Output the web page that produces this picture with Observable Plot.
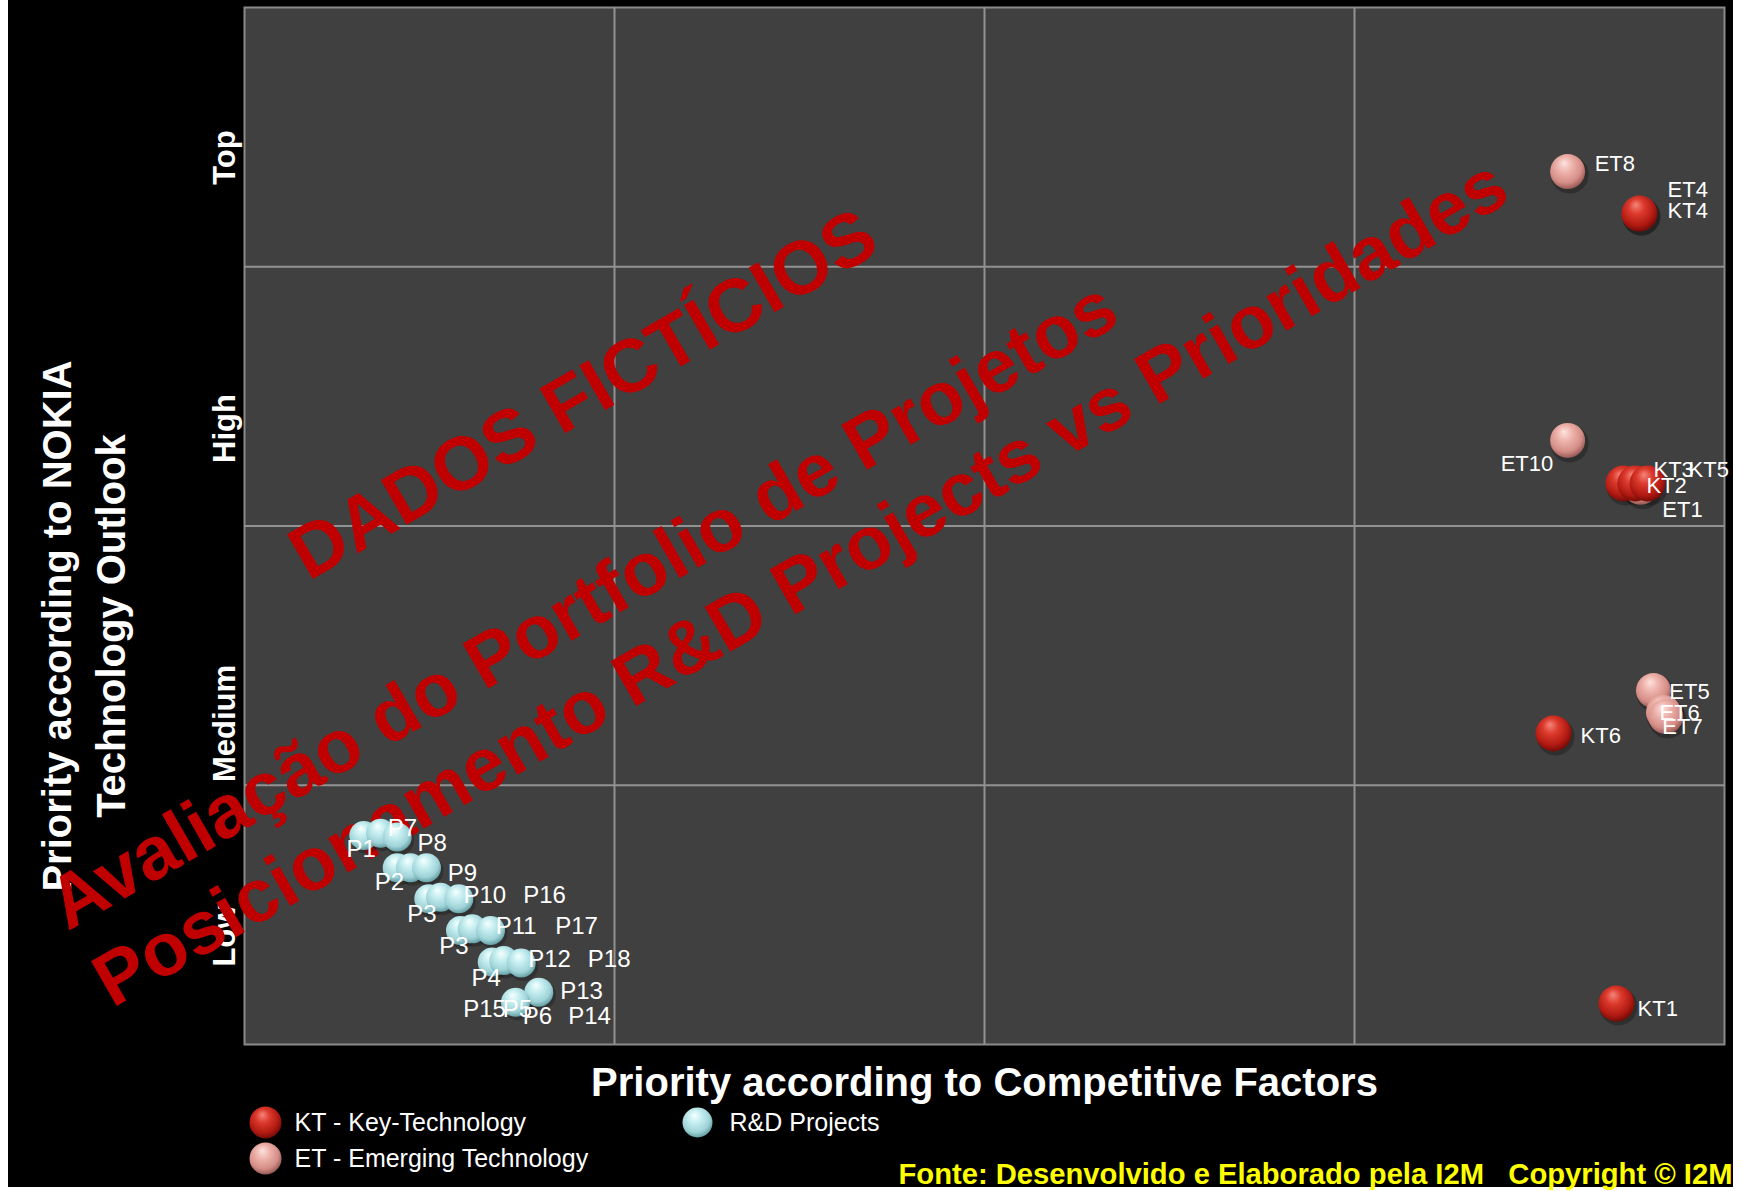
<!DOCTYPE html>
<html>
<head>
<meta charset="utf-8">
<script src="https://cdn.jsdelivr.net/npm/d3@7"></script>
<script src="https://cdn.jsdelivr.net/npm/@observablehq/plot@0.6"></script>
<style>
  html, body { margin: 0; padding: 0; background: #fff; }
  #wrap { position: relative; width: 1742px; height: 1191px; overflow: hidden; }
  #bg { position: absolute; left: 8px; top: 0; width: 1725px; height: 1187px; background: #000; }
  #chart { position: absolute; left: 0; top: 0; }
  #chart svg text { white-space: pre; }
</style>
</head>
<body>
<div id="wrap"><div id="bg"></div><div id="chart"></div></div>
<script>
// ---------------- data ----------------
const gridX = [1, 2, 3];
const gridY = [1, 2, 3];
const yTickLabels = ["Low", "Medium", "High", "Top"];
const yTickPos = [0.42, 1.238, 2.376, 3.421];

// KT - Key-Technology
const ktNames = ["KT1", "KT2", "KT3", "KT4", "KT5", "KT6"];
const ktX = [3.708, 3.727, 3.759, 3.770, 3.792, 3.538];
const ktY = [0.158, 2.164, 2.164, 3.205, 2.164, 1.200];

// ET - Emerging Technology
const etNames = ["ET1", "ET4", "ET5", "ET6", "ET7", "ET8", "ET10"];
const etX = [3.773, 3.770, 3.808, 3.835, 3.841, 3.576, 3.576];
const etY = [2.149, 3.205, 1.365, 1.281, 1.265, 3.367, 2.330];

// technology label anchors (data units, text starts here)
const techLabelText = ["KT1", "KT2", "KT3", "KT4", "KT5", "KT6", "ET1", "ET4", "ET5", "ET6", "ET7", "ET8", "ET10"];
const techLabelX = [3.765, 3.789, 3.808, 3.846, 3.903, 3.611, 3.832, 3.846, 3.851, 3.824, 3.832, 3.649, 3.395];
const techLabelY = [0.139, 2.156, 2.218, 3.217, 2.218, 1.192, 2.060, 3.298, 1.358, 1.277, 1.223, 3.398, 2.241];

// R&D projects (visible balls)
const projX = [0.3224, 0.3676, 0.4127, 0.4127, 0.4486, 0.4919, 0.4981, 0.5297, 0.5792, 0.5838, 0.6154, 0.6649, 0.6695, 0.7008, 0.7478, 0.7954, 0.7324];
const projY = [0.806, 0.815, 0.800, 0.682, 0.682, 0.682, 0.562, 0.568, 0.562, 0.440, 0.446, 0.440, 0.318, 0.324, 0.314, 0.202, 0.163];
// project labels (centre of text, data units)
const projLabelText = ["P1", "P7", "P8", "P2", "P9", "P3", "P10", "P16", "P3", "P11", "P17", "P4", "P12", "P18", "P13", "P15", "P5", "P6", "P14"];
const projLabelX = [0.3154, 0.4270, 0.5073, 0.3919, 0.5892, 0.4792, 0.6495, 0.8108, 0.5657, 0.7343, 0.8973, 0.6533, 0.8243, 0.9857, 0.9108, 0.6486, 0.7378, 0.7919, 0.9324];
const projLabelY = [0.752, 0.833, 0.776, 0.626, 0.661, 0.503, 0.575, 0.575, 0.380, 0.456, 0.456, 0.257, 0.328, 0.328, 0.205, 0.136, 0.136, 0.109, 0.109];

const legendLabels = ["KT - Key-Technology", "ET - Emerging Technology", "R&D Projects"];
const xTitle = "Priority according to Competitive Factors";
const yTitle = "Priority according to NOKIA\nTechnology Outlook";
const watermarkLines = ["DADOS FICTÍCIOS", "Avaliação do Portfolio de Projetos", "Posicionamento R&D Projects vs Prioridades"];
const watermarkX = [0.173, -0.478, -0.357];
const watermarkY = [1.786, 0.436, 0.139];
const caption = "Fonte: Desenvolvido e Elaborado pela I2M   Copyright © I2M";

// ---------------- tables ----------------
const kt = ktNames.map((n, i) => ({name: n, x: ktX[i], y: ktY[i]}));
const et = etNames.map((n, i) => ({name: n, x: etX[i], y: etY[i]}));
const techLabels = techLabelText.map((t, i) => ({t, x: techLabelX[i], y: techLabelY[i]}));
const proj = projX.map((x, i) => ({x, y: projY[i]}));
const projLabels = projLabelText.map((t, i) => ({t, x: projLabelX[i], y: projLabelY[i]}));
const yTicks = yTickLabels.map((t, i) => ({t, y: yTickPos[i]}));
const wm = watermarkLines.map((t, i) => ({t, x: watermarkX[i], y: watermarkY[i]}));

const SANS = "'Liberation Sans', Arial, sans-serif";
const id = d => d;

const plot = Plot.plot({
  width: 1742,
  height: 1191,
  marginLeft: 244,
  marginRight: 18,
  marginTop: 7,
  marginBottom: 147,
  x: {domain: [0, 4], axis: null},
  y: {domain: [0, 4], axis: null},
  style: {background: "transparent", overflow: "visible", fontFamily: SANS},
  marks: [
    Plot.frame({fill: "#404040", stroke: "#8a8a8a", strokeWidth: 2}),
    Plot.ruleX(gridX, {stroke: "#929292", strokeWidth: 2}),
    Plot.ruleY(gridY, {stroke: "#929292", strokeWidth: 2}),

    // y "ticks"
    Plot.text(yTicks, {y: "y", text: "t", frameAnchor: "left", dx: -19, rotate: -90,
      textAnchor: "middle", lineAnchor: "middle", fontSize: 31, fontWeight: "bold", fill: "white"}),
    // axis titles
    Plot.text([yTitle], {text: id, frameAnchor: "left", dx: -164, dy: 100, rotate: -90,
      textAnchor: "middle", lineAnchor: "middle", lineHeight: 1.35, fontSize: 40, fontWeight: "bold", fill: "white"}),
    Plot.text([xTitle], {text: id, frameAnchor: "bottom", dy: 51, textAnchor: "middle", lineAnchor: "bottom",
      fontSize: 40, fontWeight: "bold", fill: "white"}),

    // legend
    Plot.dot([0], {frameAnchor: "bottom-left", dx: 21, dy: 78, r: 16, fill: "url(#gKT)"}),
    Plot.dot([0], {frameAnchor: "bottom-left", dx: 21, dy: 114, r: 16, fill: "url(#gET)"}),
    Plot.dot([0], {frameAnchor: "bottom-left", dx: 453, dy: 78, r: 15, fill: "url(#gPR)"}),
    Plot.text([legendLabels[0]], {text: id, frameAnchor: "bottom-left", dx: 50, dy: 78, textAnchor: "start", lineAnchor: "middle", fontSize: 25, fill: "white"}),
    Plot.text([legendLabels[1]], {text: id, frameAnchor: "bottom-left", dx: 50, dy: 114, textAnchor: "start", lineAnchor: "middle", fontSize: 25, fill: "white"}),
    Plot.text([legendLabels[2]], {text: id, frameAnchor: "bottom-left", dx: 485, dy: 78, textAnchor: "start", lineAnchor: "middle", fontSize: 25, fill: "white"}),

    // caption
    Plot.text([caption], {text: id, frameAnchor: "bottom-right", dx: 8, dy: 139, textAnchor: "end", lineAnchor: "bottom",
      fontSize: 29.2, fontWeight: "bold", fill: "#ffff00"}),

    // watermark
    Plot.text(wm, {x: "x", y: "y", text: "t", rotate: -30, textAnchor: "start", lineAnchor: "bottom",
      fontSize: 75, fontWeight: "bold", fill: "#c00000"}),

    // shadows
    Plot.dot(et, {x: "x", y: "y", r: 19, dx: 2, dy: 3, fill: "#111", fillOpacity: 0.35}),
    Plot.dot(kt, {x: "x", y: "y", r: 19, dx: 2, dy: 3, fill: "#111", fillOpacity: 0.35}),
    Plot.dot(proj, {x: "x", y: "y", r: 15, dx: 2, dy: 3, fill: "#111", fillOpacity: 0.3}),

    // balls
    Plot.dot(et, {x: "x", y: "y", r: 17.5, fill: "url(#gET)"}),
    Plot.dot(kt, {x: "x", y: "y", r: 18, fill: "url(#gKT)"}),
    Plot.dot(proj, {x: "x", y: "y", r: 14.5, fill: "url(#gPR)"}),

    // labels
    Plot.text(techLabels, {x: "x", y: "y", text: "t", textAnchor: "start", lineAnchor: "middle",
      fontSize: 22, fill: "white"}),
    Plot.text(projLabels, {x: "x", y: "y", text: "t", textAnchor: "middle", lineAnchor: "middle",
      fontSize: 24, fill: "white"})
  ]
});

// radial gradients for the 3-D balls
const defs = d3.select(plot).insert("defs", ":first-child");
function grad(gid, stops) {
  const g = defs.append("radialGradient").attr("id", gid)
    .attr("cx", "45%").attr("cy", "40%").attr("r", "62%").attr("fx", "40%").attr("fy", "25%");
  stops.forEach(([o, c]) => g.append("stop").attr("offset", o).attr("stop-color", c));
}
grad("gKT", [["0%", "#f4857a"], ["35%", "#dc3a2c"], ["75%", "#b11a12"], ["100%", "#6e0a06"]]);
grad("gET", [["0%", "#fde2de"], ["35%", "#eeb4ad"], ["75%", "#d48d86"], ["100%", "#905450"]]);
grad("gPR", [["0%", "#f6ffff"], ["35%", "#c6eef0"], ["75%", "#9fd3d8"], ["100%", "#5f9a9f"]]);

document.getElementById("chart").appendChild(plot);
</script>
</body>
</html>
